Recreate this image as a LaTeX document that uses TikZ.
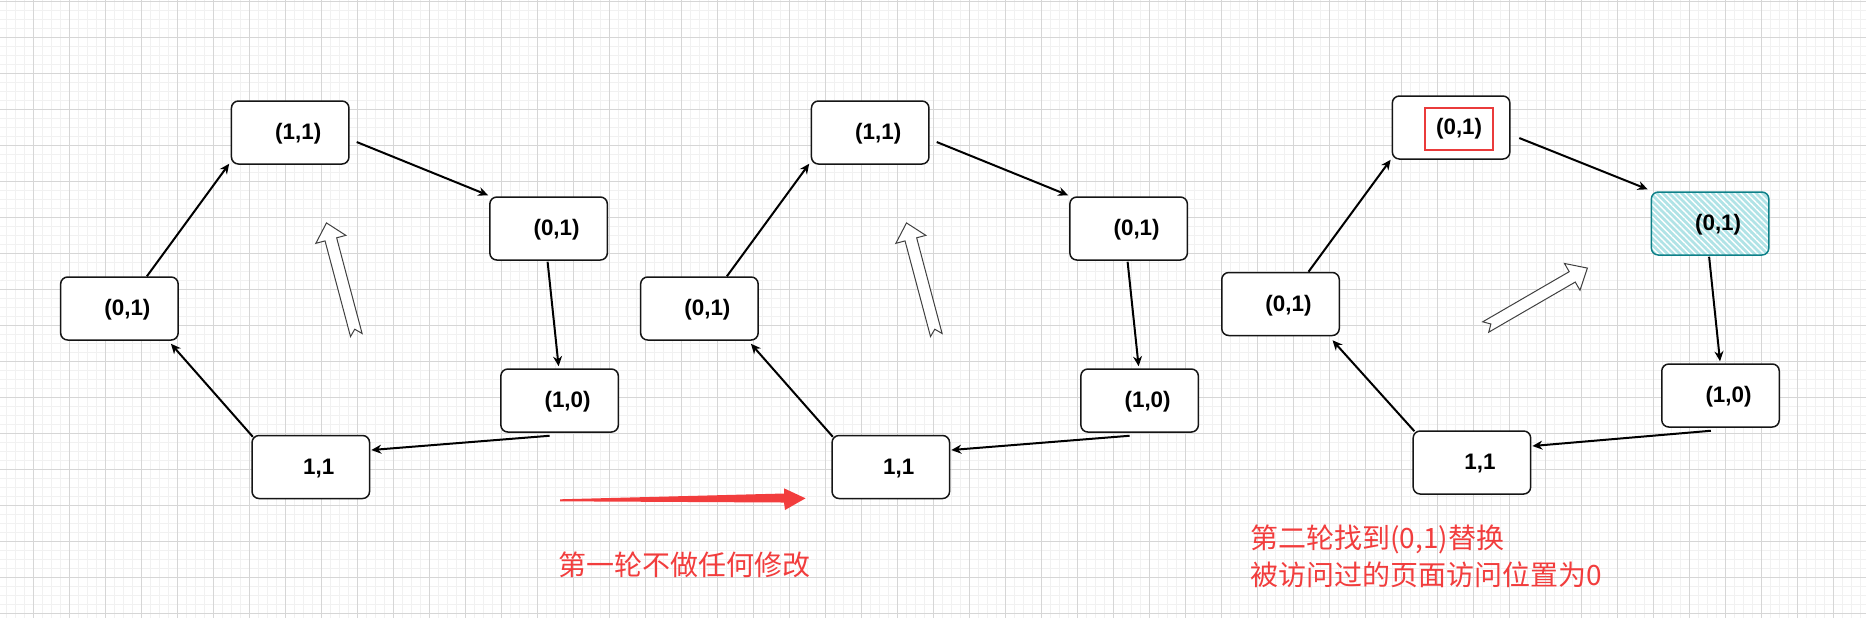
\documentclass[tikz,border=0pt]{standalone}
\usepackage{fontspec}
\setmainfont{Liberation Sans}
\newfontfamily\cjk{Noto Sans CJK SC}
\usetikzlibrary{calc,arrows.meta,patterns.meta}
\definecolor{gridmajor}{HTML}{D6D6D6}
\definecolor{gridminor}{HTML}{F1F1F1}
\definecolor{boxline}{HTML}{151515}
\definecolor{hatchfill}{HTML}{B0E3E6}
\definecolor{hatchline}{HTML}{0E8088}
\definecolor{redtxt}{HTML}{F23D3D}
\definecolor{redbox}{HTML}{EA3B3B}
\begin{document}
\begin{tikzpicture}[x=0.5pt,y=-0.5pt,
  boxbase/.style={line width=0.75pt, rounded corners=3.5pt, minimum width=58.75pt, minimum height=31.5pt, inner sep=0pt},
  pagebox/.style={boxbase, draw=boxline, fill=white},
  hatchbox/.style={boxbase, draw=hatchline, preaction={fill=hatchfill}, pattern={Lines[angle=-45,distance=2.2pt,line width=0.7pt]}, pattern color=white},
  lbl/.style={font=\bfseries\fontsize{11.2}{13}\selectfont, inner sep=0pt, xshift=4pt, yshift=-0.75pt},
  conn/.style={draw=black, line width=1pt, -{Stealth[length=5pt,width=4.5pt]}},
  hollow/.style={draw=black!75, line width=0.5pt, fill=white},
  redtext/.style={text=redtxt, font=\cjk\fontsize{14}{18.5}\selectfont, inner sep=0pt},
  minorgrid/.style={draw=gridminor, line width=0.5pt},
  majorgrid/.style={draw=gridmajor, line width=0.5pt}
]
\useasboundingbox (0,0) rectangle (1866,618);
\fill[white] (0,0) rectangle (1866,618);
% grid
\foreach \k in {1,...,207} \draw[minorgrid] ({-2.7+9*\k},0) -- ({-2.7+9*\k},618);
\foreach \k in {0,...,68} \draw[minorgrid] (0,{1.3+9*\k}) -- (1866,{1.3+9*\k});
\foreach \k in {1,...,51} \draw[majorgrid] ({-2.7+36*\k},0) -- ({-2.7+36*\k},618);
\foreach \k in {0,...,17} \draw[majorgrid] (0,{1.3+36*\k}) -- (1866,{1.3+36*\k});

% ---------- panel 1 ----------
\node[pagebox, label={[lbl]center:{(1,1)}}] (p1A) at (290.2,132.5) {};
\node[pagebox, label={[lbl]center:{(0,1)}}] (p1B) at (548.6,228.5) {};
\node[pagebox, label={[lbl]center:{(1,0)}}] (p1C) at (559.6,400.5) {};
\node[pagebox, label={[lbl]center:{1,1}}] (p1D) at (310.8,467) {};
\node[pagebox, label={[lbl]center:{(0,1)}}] (p1E) at (119.4,308.5) {};
\draw[conn] ($(p1E.north)+(27.5,0)$) -- ($(p1A.south west)+(-1.5,-1)$);
\draw[conn] ($(p1A.east)+(7,9.5)$) -- ($(p1B.north west)+(-1,-1)$);
\draw[conn] ($(p1B.south)+(-1,1)$) -- ($(p1C.north)+(-1,-2)$);
\draw[conn] ($(p1C.south)+(-10,3)$) -- ($(p1D.east)+(1,-17)$);
\draw[conn] ($(p1D.north west)+(1.5,2)$) -- ($(p1E.south east)+(-8,3)$);
\begin{scope}[shift={(356.3,335)}, rotate=104.9]
\draw[hollow] (0,-6) -- (99,-6) -- (99,-15.5) -- (116,0) -- (99,15.5) -- (99,6) -- (0,6) -- (6,0) -- cycle;
\end{scope}

% ---------- panel 2 ----------
\node[pagebox, label={[lbl]center:{(1,1)}}] (p2A) at (870.2,132.5) {};
\node[pagebox, label={[lbl]center:{(0,1)}}] (p2B) at (1128.6,228.5) {};
\node[pagebox, label={[lbl]center:{(1,0)}}] (p2C) at (1139.6,400.5) {};
\node[pagebox, label={[lbl]center:{1,1}}] (p2D) at (890.8,467) {};
\node[pagebox, label={[lbl]center:{(0,1)}}] (p2E) at (699.4,308.5) {};
\draw[conn] ($(p2E.north)+(27.5,0)$) -- ($(p2A.south west)+(-1.5,-1)$);
\draw[conn] ($(p2A.east)+(7,9.5)$) -- ($(p2B.north west)+(-1,-1)$);
\draw[conn] ($(p2B.south)+(-1,1)$) -- ($(p2C.north)+(-1,-2)$);
\draw[conn] ($(p2C.south)+(-10,3)$) -- ($(p2D.east)+(1,-17)$);
\draw[conn] ($(p2D.north west)+(1.5,2)$) -- ($(p2E.south east)+(-8,3)$);
\begin{scope}[shift={(936.3,335)}, rotate=104.9]
\draw[hollow] (0,-6) -- (99,-6) -- (99,-15.5) -- (116,0) -- (99,15.5) -- (99,6) -- (0,6) -- (6,0) -- cycle;
\end{scope}

% ---------- panel 3 ----------
\node[pagebox, label={[lbl, draw=redbox, line width=1pt, minimum width=34pt, minimum height=21.3pt]center:{(0,1)}}] (p3A) at (1451.1,127.5) {};
\node[hatchbox, label={[lbl]center:{(0,1)}}] (p3B) at (1710.1,223.5) {};
\node[pagebox, label={[lbl]center:{(1,0)}}] (p3C) at (1720.5,395.5) {};
\node[pagebox, label={[lbl]center:{1,1}}] (p3D) at (1471.9,462.5) {};
\node[pagebox, label={[lbl]center:{(0,1)}}] (p3E) at (1280.5,304) {};
\draw[conn] ($(p3E.north)+(28,0)$) -- ($(p3A.south west)+(-1,0)$);
\draw[conn] ($(p3A.east)+(8.7,10.5)$) -- ($(p3B.north west)+(-3,-2)$);
\draw[conn] ($(p3B.south)+(-1,1)$) -- ($(p3C.north)+(-0.5,-2)$);
\draw[conn] ($(p3C.south)+(-9.6,3)$) -- ($(p3D.east)+(1,-16.5)$);
\draw[conn] ($(p3D.north west)+(2,1)$) -- ($(p3E.south east)+(-7.5,4)$);
\begin{scope}[shift={(1485.7,327)}, rotate=30.1]
\draw[hollow] (0,-6) -- (100,-6) -- (100,-15.5) -- (117.5,0) -- (100,15.5) -- (100,6) -- (0,6) -- (6,0) -- cycle;
\end{scope}

% red arrow and texts
\fill[redtxt] (560,499.3) -- (784,493.5) -- (784,488.3) -- (805.5,498.3) -- (785,510) -- (784,502.5) -- (560,501.3) -- cycle;
\node[redtext, anchor=west] (t1) at (558,565) {第一轮不做任何修改};
\node[redtext, anchor=west, align=left] (t2) at (1250,556.8) {第二轮找到(0,1)替换\\被访问过的页面访问位置为0};
\end{tikzpicture}
\end{document}
